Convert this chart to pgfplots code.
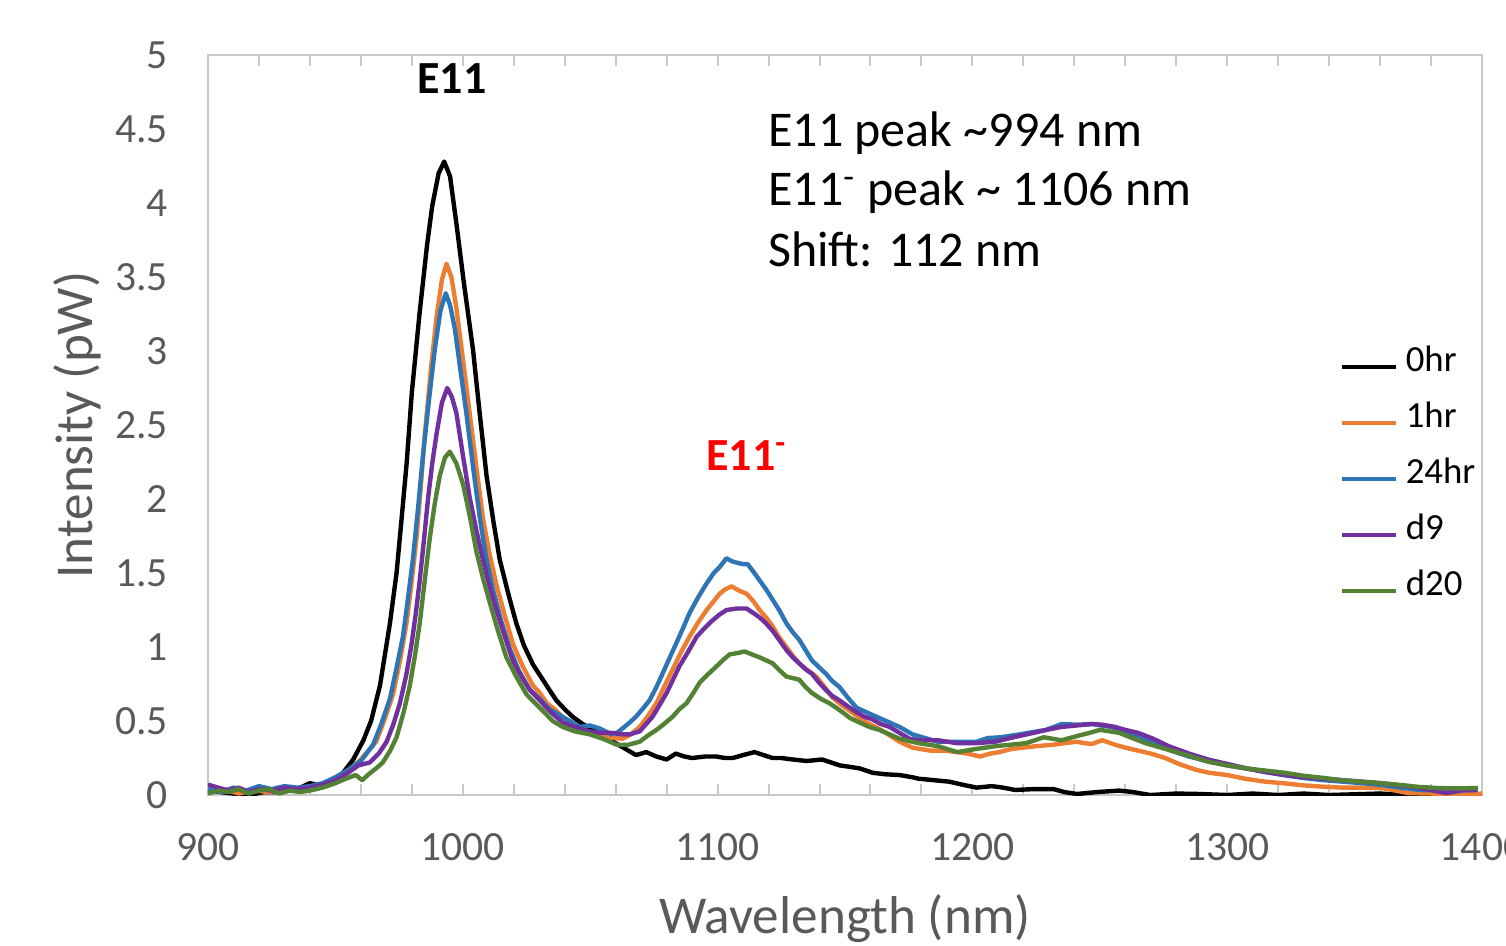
\documentclass[border=0pt]{standalone}
\usepackage{pgfplots}
\pgfplotsset{compat=1.18}
\usepackage{pgfplotstable}
\usepackage{fontspec}
\setmainfont{Carlito}
\definecolor{c1hr}{HTML}{ED7D31}
\definecolor{c24}{HTML}{2E75B6}
\definecolor{cd9}{HTML}{7030A0}
\definecolor{cd20}{HTML}{548235}
\definecolor{axgray}{HTML}{C8C8C8}
\definecolor{txtgray}{HTML}{595959}

\pgfplotstableread{
x y
900 0.03
905 0.02
910 0.01
916 0.00
922 0.02
929 0.02
935 0.04
940 0.08
945 0.06
950 0.11
953 0.15
957 0.24
961 0.37
964 0.50
967.5 0.74
971.4 1.16
974 1.50
976 1.87
978 2.25
980 2.72
983 3.25
986 3.72
988 3.98
990.5 4.20
992.7 4.28
995 4.18
997.5 3.86
1000.5 3.45
1004 3.01
1006.5 2.60
1009.3 2.16
1012 1.85
1014.5 1.59
1018 1.35
1021 1.16
1024 1.01
1027.6 0.88
1031 0.79
1034 0.71
1036.7 0.64
1040 0.58
1043 0.53
1047 0.48
1051 0.44
1055 0.40
1060 0.35
1064 0.31
1068 0.27
1072 0.29
1076 0.26
1080 0.24
1083.6 0.28
1087 0.26
1090 0.25
1095 0.26
1099.5 0.26
1103 0.25
1106 0.25
1110 0.27
1114.5 0.29
1118 0.27
1121.6 0.25
1125 0.25
1129.5 0.24
1135 0.23
1141 0.24
1148 0.20
1152 0.19
1155.7 0.18
1160.9 0.15
1166 0.14
1171.4 0.135
1176.5 0.12
1179 0.11
1185 0.10
1191 0.09
1196 0.07
1201.6 0.05
1207.7 0.06
1212 0.05
1216.8 0.034
1224 0.04
1231.9 0.04
1236 0.02
1241 0.007
1249 0.02
1257.6 0.03
1263 0.02
1269.8 0.00
1280 0.01
1289 0.007
1300 0.00
1310 0.01
1320 0.00
1330 0.01
1340 0.00
1350 0.005
1360 0.01
1370 0.00
1380 0.005
1390 0.00
1400 0.00
}\tzero

\pgfplotstableread{
x y
900 0.02
906 0.04
912 0.01
918 0.03
924 0.02
930 0.04
936 0.03
942 0.05
948 0.09
952 0.13
956 0.18
960 0.24
963 0.30
966 0.36
969.5 0.52
972.6 0.68
975.5 0.92
977.9 1.16
980 1.45
981.8 1.73
983.5 2.08
985.1 2.44
987.5 2.88
989.7 3.23
991.8 3.48
993.6 3.59
995.5 3.50
997.5 3.29
1000 2.95
1002.7 2.58
1005.3 2.22
1007.9 1.87
1010.5 1.63
1013.2 1.42
1016.5 1.21
1019.7 1.02
1023.5 0.87
1027.5 0.74
1030.2 0.69
1033 0.62
1036.7 0.57
1040 0.51
1043 0.48
1047 0.44
1051 0.41
1056.5 0.39
1062.7 0.38
1066 0.41
1069.4 0.46
1072.5 0.53
1076 0.62
1079 0.73
1082.4 0.85
1085.5 0.96
1089 1.07
1092.5 1.17
1095.7 1.25
1098.5 1.31
1100.8 1.36
1103 1.39
1105.5 1.41
1108.5 1.38
1111.4 1.36
1114 1.31
1116.5 1.25
1119 1.20
1121.6 1.14
1124 1.07
1127 1.00
1129.5 0.94
1132 0.89
1135.5 0.84
1138.8 0.80
1142 0.73
1145 0.66
1148.5 0.61
1151.8 0.57
1155 0.53
1158.4 0.49
1162 0.46
1166 0.42
1171.4 0.36
1176.5 0.32
1183.5 0.30
1189 0.30
1194 0.29
1198 0.28
1203 0.26
1207 0.28
1210.6 0.29
1215 0.31
1219.8 0.32
1225 0.33
1231.8 0.34
1236 0.35
1241 0.36
1244 0.35
1247 0.345
1250.9 0.37
1253.5 0.355
1256 0.34
1260 0.32
1265 0.30
1270 0.28
1275.7 0.25
1281 0.21
1287.8 0.17
1293 0.15
1300 0.135
1307 0.11
1315 0.09
1322 0.08
1330 0.065
1338 0.056
1345 0.05
1352 0.05
1360.6 0.047
1366 0.03
1371 0.013
1380 0.01
1391 0.00
1400 0.01
}\tone

\pgfplotstableread{
x y
900 0.04
905 0.02
910 0.05
915 0.03
920 0.06
925 0.04
930 0.06
935 0.05
940 0.06
945 0.08
950 0.12
955 0.17
960 0.23
964.8 0.34
968 0.48
971.4 0.65
974 0.86
976.5 1.07
978.5 1.33
980.4 1.59
982.5 1.95
984.4 2.30
986.8 2.68
989 3.01
991.2 3.27
993.3 3.39
995 3.31
996.9 3.15
999 2.88
1001.4 2.58
1004 2.22
1006.7 1.87
1009 1.62
1011.8 1.39
1015 1.18
1018.4 0.99
1022 0.84
1026.3 0.71
1030.2 0.65
1034 0.58
1038 0.54
1042 0.50
1046 0.46
1049.8 0.47
1053.7 0.45
1058.3 0.41
1060.5 0.42
1062.7 0.45
1065.5 0.49
1068 0.53
1070.5 0.58
1073.3 0.64
1076 0.73
1078.4 0.82
1081 0.92
1083.9 1.03
1086.5 1.13
1089 1.23
1092.5 1.34
1095.7 1.43
1098.5 1.50
1100.8 1.54
1103.5 1.60
1105.5 1.58
1107.5 1.57
1110 1.56
1111.8 1.56
1114 1.51
1116.5 1.45
1119 1.39
1121.6 1.32
1124.5 1.24
1127 1.16
1129.5 1.10
1132 1.05
1134.5 0.98
1137 0.91
1140 0.86
1142.5 0.82
1145 0.77
1147.8 0.73
1151 0.66
1154.5 0.59
1157 0.57
1159.6 0.55
1163.5 0.52
1167.5 0.49
1171.4 0.46
1176.5 0.41
1180.4 0.39
1186.5 0.36
1194 0.36
1201.6 0.36
1206 0.385
1211 0.39
1216.8 0.405
1222 0.42
1228.9 0.44
1235 0.48
1241 0.475
1247 0.48
1250.5 0.47
1254.6 0.46
1258 0.44
1262 0.42
1266.5 0.39
1271 0.35
1278 0.30
1285 0.26
1292 0.23
1300 0.20
1307 0.18
1315 0.157
1322 0.135
1330 0.115
1338 0.10
1345.5 0.09
1353 0.08
1360.6 0.068
1368 0.05
1375.7 0.034
1385 0.03
1392 0.04
1398.4 0.034
}\ttwofour

\pgfplotstableread{
x y
900 0.07
904 0.05
908 0.03
912 0.05
916 0.02
920 0.04
925 0.03
930 0.05
935 0.04
940 0.05
945 0.07
950 0.10
955 0.15
959 0.20
963.5 0.22
967 0.28
970.1 0.36
972.8 0.48
975.3 0.62
977.8 0.81
979.9 1.02
981.5 1.22
983.1 1.45
984.8 1.73
986.4 2.01
988 2.24
989.7 2.44
991.8 2.65
993.9 2.75
995.7 2.69
997.5 2.58
1000 2.30
1002.7 2.01
1005.3 1.79
1007.9 1.59
1010.5 1.41
1013.2 1.25
1016.5 1.07
1019.6 0.91
1023 0.80
1026.3 0.71
1030.2 0.64
1034.5 0.56
1039.2 0.49
1044 0.46
1049.8 0.43
1054 0.42
1058.8 0.42
1062 0.41
1065.5 0.41
1069.4 0.43
1072 0.48
1074.5 0.53
1077.3 0.61
1080 0.69
1082.5 0.78
1085 0.87
1088.5 0.97
1091.8 1.07
1095 1.13
1098 1.18
1100.8 1.22
1103.5 1.25
1107.5 1.26
1111.4 1.26
1114 1.23
1116.5 1.20
1119 1.16
1121.6 1.11
1124.5 1.04
1127 0.98
1129.5 0.93
1132 0.89
1134.5 0.85
1137 0.82
1139.8 0.76
1142.5 0.71
1145 0.67
1147.8 0.64
1151 0.60
1154.5 0.56
1157.5 0.53
1160.9 0.51
1164 0.48
1167.5 0.46
1171.4 0.42
1175.3 0.38
1179 0.37
1186.5 0.37
1194 0.35
1201 0.35
1209 0.36
1216 0.39
1224 0.42
1229 0.44
1235 0.46
1241 0.47
1247 0.48
1251 0.475
1256 0.46
1260 0.44
1265 0.42
1271 0.38
1277 0.33
1285 0.28
1292.5 0.24
1300 0.21
1307.6 0.18
1315 0.155
1322.7 0.135
1330 0.12
1338 0.11
1345.5 0.10
1353 0.09
1360.6 0.08
1368 0.065
1375.7 0.047
1381 0.03
1386 0.013
1392 0.03
1398 0.034
}\tdnine

\pgfplotstableread{
x y
900 0.01
904 0.03
908 0.02
912 0.04
916 0.01
920 0.03
924 0.04
928 0.01
932 0.03
936 0.02
940 0.03
945 0.05
950 0.08
954 0.11
958 0.135
960.5 0.10
963 0.14
966 0.18
968.6 0.22
971.5 0.30
974 0.39
976.8 0.56
979.2 0.74
981.2 0.94
983.1 1.16
985 1.44
987 1.73
989 1.97
991 2.16
993 2.28
994.9 2.32
997.5 2.24
1000.1 2.10
1002.8 1.88
1005.4 1.64
1008 1.46
1010.6 1.30
1013.8 1.11
1017.1 0.93
1021 0.80
1025 0.68
1030.2 0.59
1035.3 0.50
1039.2 0.46
1044 0.43
1049.8 0.41
1055 0.38
1060.4 0.34
1065 0.34
1069.4 0.36
1072.5 0.40
1076 0.44
1079 0.48
1082.4 0.53
1085 0.58
1087.8 0.62
1090.5 0.69
1093 0.76
1096.5 0.82
1099.6 0.87
1102 0.91
1104.7 0.95
1108 0.96
1110.6 0.97
1113.5 0.95
1116.5 0.93
1119 0.91
1121.6 0.89
1124.5 0.84
1127 0.80
1132 0.78
1134.5 0.73
1137 0.69
1140.5 0.65
1143.9 0.62
1146.5 0.59
1149 0.56
1152 0.52
1155.7 0.49
1159.5 0.46
1163.5 0.44
1167.5 0.41
1171.4 0.38
1179 0.35
1186.5 0.33
1194 0.29
1201 0.31
1209 0.33
1215 0.34
1221 0.35
1228 0.39
1235 0.37
1242.5 0.405
1246 0.42
1250 0.44
1254 0.43
1257.6 0.42
1262 0.39
1268 0.35
1274 0.32
1280 0.29
1286 0.26
1292.5 0.225
1300 0.20
1307.6 0.18
1315 0.165
1322.7 0.15
1330 0.13
1338 0.115
1345 0.10
1353 0.09
1360 0.08
1368 0.068
1375 0.055
1383 0.047
1390 0.045
1398.4 0.047
}\tdtwenty

\begin{document}
\begin{tikzpicture}
\begin{scope}
\clip (-52pt,-37.5pt) rectangle (324.5pt,198.75pt);
\begin{axis}[
  at={(0,0)}, anchor=south west,
  scale only axis, width=318.5pt, height=185pt,
  xmin=900, xmax=1400, ymin=0, ymax=5,
  xtick={900,1000,...,1400},
  minor xtick={920,940,...,1380},
  ytick={0,0.5,...,5},
  tick align=inside,
  major tick length=2.8pt, minor tick length=2.8pt,
  tick style={axgray, line width=0.5pt},
  y tick style={draw=none},
  axis line style={axgray, line width=0.6pt},
  /pgf/number format/assume math mode=true,
  /pgf/number format/set thousands separator={},
  ticklabel style={font=\fontsize{10.4}{12}\selectfont, text=txtgray},
  xticklabel shift=6pt,
  yticklabel shift=6.5pt,
  xlabel={Wavelength (nm)},
  ylabel={Intensity (pW)},
  label style={font=\fontsize{13.3}{15}\selectfont, text=txtgray},
  xlabel style={at={(axis description cs:0.5,-0.1865)}, anchor=base},
  ylabel style={at={(axis description cs:-0.091,0.5)}, anchor=base},
  legend style={draw=none, fill=none, at={(axis description cs:0.878,0.628)}, anchor=north west,
    font=\fontsize{9.2}{11}\selectfont, legend cell align=left,
    nodes={inner ysep=0pt, inner xsep=2pt, text height=8pt, text depth=6pt}},
  legend image code/.code={\draw[#1, line width=1.1pt] (0pt,0pt) -- (13.5pt,0pt);},
  every axis plot/.append style={line width=1.1pt, line join=round},
]
\addplot[black] table[x=x,y=y] {\tzero};
\addlegendentry{0hr}
\addplot[c1hr] table[x=x,y=y] {\tone};
\addlegendentry{1hr}
\addplot[c24] table[x=x,y=y] {\ttwofour};
\addlegendentry{24hr}
\addplot[cd9] table[x=x,y=y] {\tdnine};
\addlegendentry{d9}
\addplot[cd20] table[x=x,y=y] {\tdtwenty};
\addlegendentry{d20}

\node[anchor=base, font=\bfseries\fontsize{11.5}{13}\selectfont] at (axis cs:995.7,4.74) {E11};
\node[anchor=base west, font=\bfseries\fontsize{11.5}{13}\selectfont, text=red, inner sep=0pt] at (axis cs:1095.3,2.19) {E11\textsuperscript{-}};
\node[anchor=base west, inner sep=0pt, font=\fontsize{12.5}{14}\selectfont] at (axis cs:1119.6,4.385) {E11 peak \textasciitilde 994 nm};
\node[anchor=base west, inner sep=0pt, font=\fontsize{12.5}{14}\selectfont] at (axis cs:1119.6,3.98) {E11\textsuperscript{-} peak \textasciitilde\ 1106 nm};
\node[anchor=base west, inner sep=0pt, font=\fontsize{12.5}{14}\selectfont] at (axis cs:1119.6,3.574) {Shift: 112 nm};
\end{axis}
\end{scope}
\pgfresetboundingbox
\path[use as bounding box] (-52pt,-37.5pt) rectangle (324.5pt,198.75pt);
\end{tikzpicture}
\end{document}
